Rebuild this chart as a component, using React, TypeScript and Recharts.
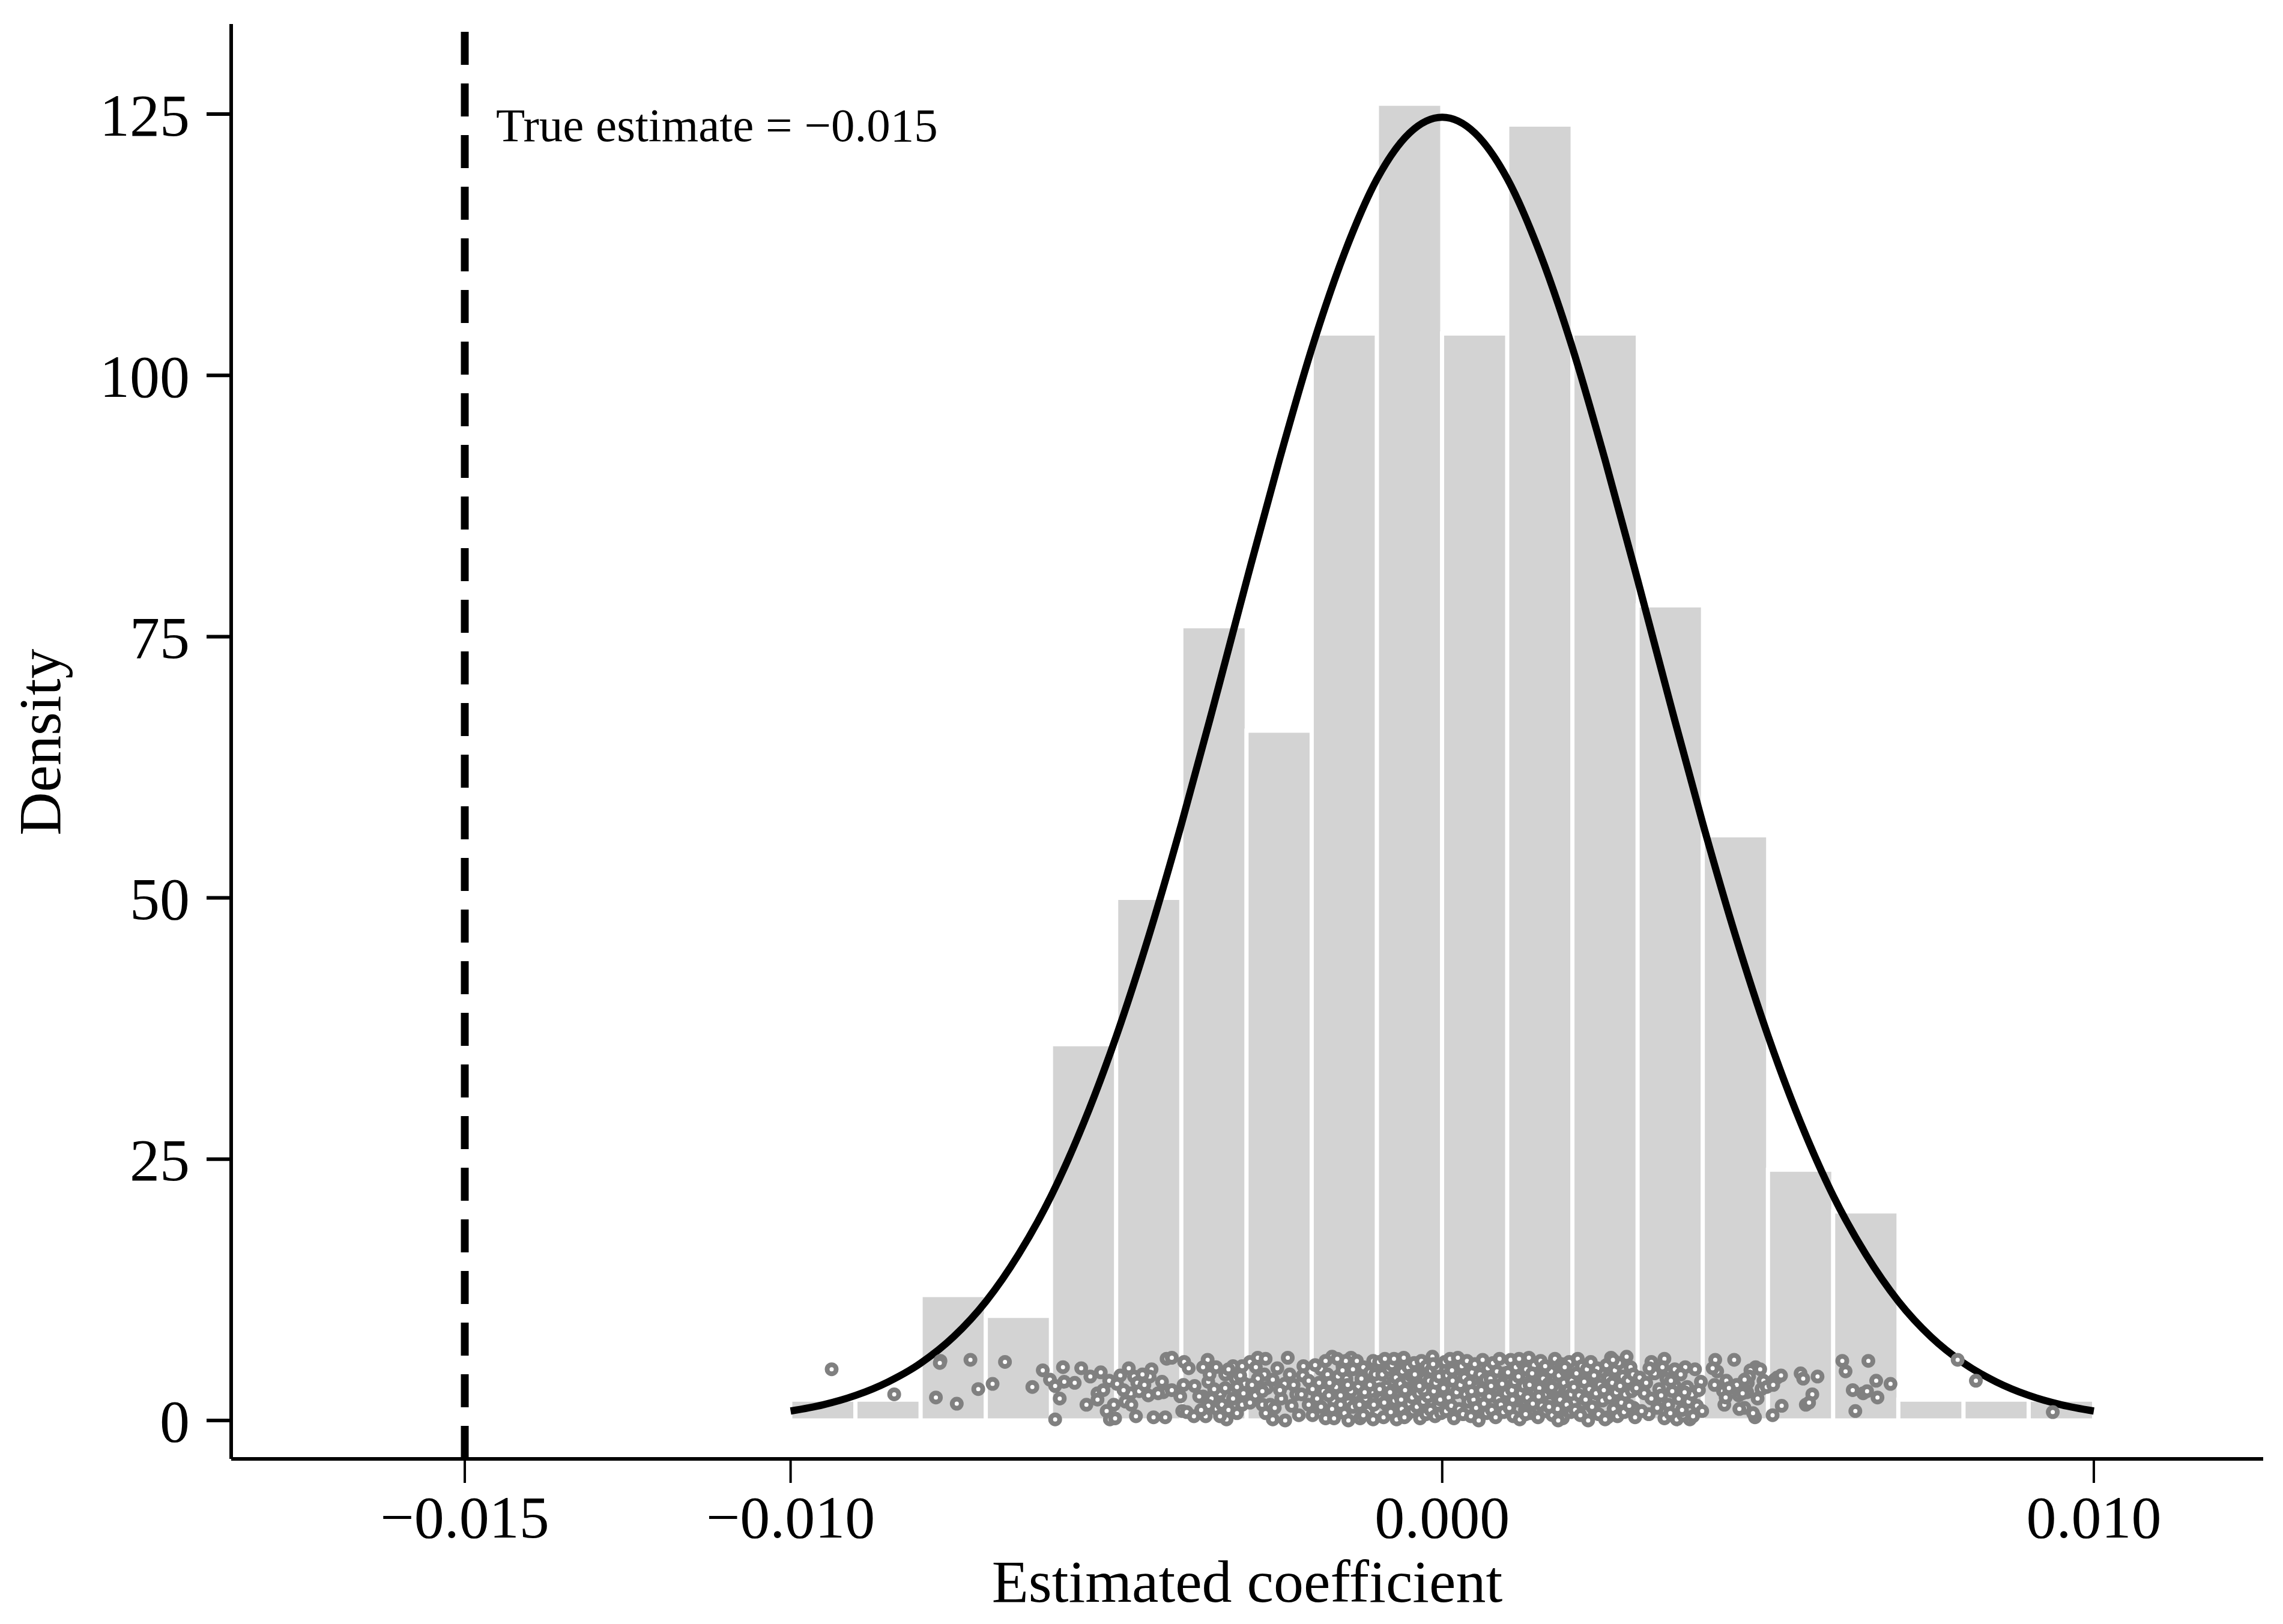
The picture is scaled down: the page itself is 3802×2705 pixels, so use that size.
import { ComposedChart, Bar, Line, Scatter, XAxis, YAxis, ReferenceLine } from 'recharts'

const FONT = '"Liberation Serif", "Times New Roman", serif'

// histogram: bin centres and densities (bin width 0.001, from -0.010 to 0.010)
const BIN_CENTERS = [
  -0.0095, -0.0085, -0.0075, -0.0065, -0.0055, -0.0045, -0.0035, -0.0025, -0.0015, -0.0005,
  0.0005, 0.0015, 0.0025, 0.0035, 0.0045, 0.0055, 0.0065, 0.0075, 0.0085, 0.0095,
]
const DENSITY = [2, 2, 12, 10, 36, 50, 76, 66, 104, 126, 104, 124, 104, 78, 56, 24, 20, 2, 2, 2]

// fitted normal curve
const CURVE_X = [
  -0.01, -0.0095, -0.009, -0.0085, -0.008, -0.0075, -0.007, -0.0065, -0.006, -0.0055, -0.005,
  -0.0045, -0.004, -0.0035, -0.003, -0.0025, -0.002, -0.0015, -0.001, -0.0005, 0,
  0.0005, 0.001, 0.0015, 0.002, 0.0025, 0.003, 0.0035, 0.004, 0.0045, 0.005,
  0.0055, 0.006, 0.0065, 0.007, 0.0075, 0.008, 0.0085, 0.009, 0.0095, 0.01,
]
const CURVE_Y = [
  0.9, 1.5, 2.4, 3.7, 5.5, 8.0, 11.4, 15.9, 21.5, 28.5, 36.8,
  46.4, 57.1, 68.6, 80.4, 91.9, 102.6, 111.7, 118.8, 123.2, 124.7,
  123.2, 118.8, 111.7, 102.6, 91.9, 80.4, 68.6, 57.1, 46.4, 36.8,
  28.5, 21.5, 15.9, 11.4, 8.0, 5.5, 3.7, 2.4, 1.5, 0.9,
]

// jittered estimates [coefficient, jitter height]
const POINTS_LEFT: [number, number][] = [
  [-0.00937, 4.9], [-0.00841, 2.5],
  [-0.0077, 5.7], [-0.00724, 5.8], [-0.00777, 2.2], [-0.00745, 1.6], [-0.00712, 3.0], [-0.00771, 5.5],
  [-0.0069, 3.5], [-0.00671, 5.6], [-0.00629, 3.2], [-0.00613, 4.8], [-0.00602, 3.9],
  [-0.00594, 3.3], [-0.00582, 5.1], [-0.0058, 3.7], [-0.00564, 3.6], [-0.00554, 5.0], [-0.00587, 2.1],
  [-0.00594, 0.1], [-0.00546, 1.5], [-0.00529, 2.6], [-0.00529, 2.0], [-0.00524, 4.6], [-0.00515, 0.9],
  [-0.00511, 3.8], [-0.0051, 0.1], [-0.00502, 0.2], [-0.00504, 1.5], [-0.0054, 4.2], [-0.0052, 2.9],
  [-0.00494, 4.3], [-0.00499, 3.5], [-0.00481, 5.0], [-0.00473, 4.2], [-0.00468, 3.6], [-0.00478, 2.6],
  [-0.00486, 1.8], [-0.0047, 0.4], [-0.00451, 2.4], [-0.00446, 4.9], [-0.00449, 4.2], [-0.0043, 3.7],
  [-0.00423, 5.9], [-0.00415, 6.0], [-0.00428, 2.7], [-0.00443, 0.3], [-0.00425, 0.3], [-0.00415, 2.9],
  [-0.00402, 2.3], [-0.00436, 2.6], [-0.0046, 4.4], [-0.00489, 2.9], [-0.00465, 2.8], [-0.00477, 1.5],
  [-0.00457, 3.4],
]

const POINTS_MID_LEFT: [number, number][] = [
  [-0.00397, 3.4], [-0.00396, 5.6], [-0.00389, 5.0], [-0.00399, 0.9], [-0.00392, 0.8], [-0.00381, 0.4],
  [-0.00367, 2.3], [-0.0036, 5.8], [-0.00367, 5.1], [-0.00347, 5.1], [-0.00359, 3.7], [-0.00341, 2.6],
  [-0.00333, 4.4], [-0.00331, 0.1], [-0.00317, 4.0], [-0.00307, 5.2], [-0.00303, 3.5], [-0.00305, 2.6],
  [-0.00307, 1.5], [-0.00354, 2.1], [-0.00346, 1.1], [-0.00338, 1.5], [-0.00321, 2.1], [-0.00328, 1.0],
  [-0.00363, 0.4], [-0.00315, 0.7], [-0.00373, 2.3], [-0.00359, 1.4], [-0.00341, 0.4], [-0.00321, 5.2],
  [-0.00333, 3.1], [-0.0035, 3.0], [-0.0037, 1.0], [-0.0031, 4.3], [-0.0038, 3.3], [-0.00357, 4.4],
  [-0.00328, 4.9], [-0.00315, 3.2],
  [-0.00295, 5.6], [-0.00283, 6.0], [-0.00271, 5.9], [-0.00286, 5.1], [-0.00273, 4.4], [-0.00269, 3.1],
  [-0.00287, 2.4], [-0.00276, 1.5], [-0.00264, 1.5], [-0.00271, 0.7], [-0.0026, 0.1], [-0.00241, 0.0],
  [-0.00242, 3.5], [-0.00253, 5.0], [-0.00237, 6.0], [-0.00224, 2.5], [-0.00216, 2.5], [-0.00213, 5.2],
  [-0.00214, 4.3], [-0.0022, 0.5], [-0.00247, 2.1], [-0.00257, 1.2], [-0.00231, 1.4], [-0.00283, 4.0],
  [-0.0026, 3.9], [-0.00295, 1.7], [-0.00234, 4.4], [-0.00249, 2.9], [-0.00276, 2.8], [-0.00228, 3.4],
  [-0.00205, 1.5], [-0.00292, 3.4], [-0.00205, 3.8],
]

const POINTS_CENTER_LEFT: [number, number][] = [
  [-0.00169, 6.1], [-0.0014, 6.0], [-0.00106, 5.7], [-0.00199, 0.5], [-0.00179, 0.2], [-0.00166, 1.8],
  [-0.00156, 2.4], [-0.00129, 3.2], [-0.00126, 0.2], [-0.00106, 0.1], [-0.00186, 4.9], [-0.00176, 4.4],
  [-0.00147, 4.0], [-0.00121, 5.1], [-0.00111, 4.6], [-0.00153, 5.2], [-0.00137, 4.9], [-0.00163, 3.2],
  [-0.00182, 2.8], [-0.00192, 2.1], [-0.00144, 1.7], [-0.00118, 2.1], [-0.00134, 2.5], [-0.00108, 2.8],
  [-0.00169, 1.1], [-0.0015, 0.7], [-0.00114, 0.9], [-0.00189, 3.6], [-0.0016, 4.2], [-0.00124, 4.0],
  [-0.0014, 2.8], [-0.00186, 1.3], [-0.00166, 0.2], [-0.00144, 0.0], [-0.00121, 0.5], [-0.00105, 1.5],
  [-0.00195, 5.3], [-0.00179, 5.7], [-0.00148, 5.7], [-0.00131, 5.7], [-0.00156, 1.5], [-0.00173, 3.6],
  [-0.00137, 1.3], [-0.00111, 3.4], [-0.00199, 3.0], [-0.00153, 4.8], [-0.00127, 1.5], [-0.00174, 2.4],
  [-0.00103, 4.4], [-0.00145, 3.4], [-0.00161, 5.9], [-0.00119, 2.7],
  [-0.00097, 5.6], [-0.00094, 2.1], [-0.00092, 4.4], [-0.0009, 0.3], [-0.00088, 5.9], [-0.00086, 3.2],
  [-0.00084, 1.4], [-0.00082, 4.9], [-0.0008, 2.7], [-0.00079, 0.8], [-0.00077, 5.3], [-0.00075, 3.7],
  [-0.00073, 1.9], [-0.00071, 4.1], [-0.0007, 0.1], [-0.00068, 5.8], [-0.00066, 2.4], [-0.00064, 3.5],
  [-0.00062, 1.1], [-0.00061, 4.7], [-0.00059, 6.0], [-0.00057, 2.9], [-0.00055, 0.5], [-0.00053, 3.9],
  [-0.00052, 5.1], [-0.0005, 1.6], [-0.00048, 4.3], [-0.00046, 2.2], [-0.00045, 0.9], [-0.00043, 5.5],
  [-0.00041, 3.0], [-0.00039, 1.3], [-0.00038, 4.6], [-0.00036, 2.6], [-0.00034, 0.2], [-0.00032, 5.7],
  [-0.00031, 3.4], [-0.00029, 1.8], [-0.00027, 4.0], [-0.00025, 0.6], [-0.00024, 5.2], [-0.00022, 2.3],
  [-0.0002, 3.8], [-0.00018, 1.0], [-0.00017, 4.8], [-0.00015, 6.1], [-0.00013, 2.8], [-0.00011, 0.4],
  [-0.0001, 3.6], [-0.00008, 5.0], [-0.00006, 1.5], [-0.00005, 4.2], [-0.00003, 2.0], [-0.00002, 0.7],
  [-0.00096, 3.0], [-0.00074, 5.9], [-0.00058, 0.3], [-0.00042, 4.4], [-0.00028, 2.9], [-0.00014, 5.4],
  [-0.00089, 1.7], [-0.00063, 2.0], [-0.00035, 3.3],
]

const POINTS_CENTER_RIGHT: [number, number][] = [
  [0.00002, 3.1], [0.00004, 5.6], [0.00006, 0.9], [0.00008, 4.3], [0.0001, 2.2], [0.00012, 5.9],
  [0.00014, 1.4], [0.00016, 3.8], [0.00018, 0.2], [0.0002, 4.9], [0.00022, 2.7], [0.00024, 6.0],
  [0.00026, 1.1], [0.00028, 3.4], [0.0003, 5.2], [0.00032, 0.6], [0.00034, 4.1], [0.00036, 2.5],
  [0.00038, 5.7], [0.0004, 1.8], [0.00042, 3.6], [0.00044, 0.4], [0.00046, 4.6], [0.00048, 2.0],
  [0.0005, 5.4], [0.00052, 1.2], [0.00054, 3.2], [0.00056, 0.0], [0.00058, 4.4], [0.0006, 2.9],
  [0.00062, 5.8], [0.00064, 1.6], [0.00066, 3.9], [0.00068, 0.7], [0.0007, 5.0], [0.00072, 2.3],
  [0.00074, 4.0], [0.00076, 1.0], [0.00078, 5.5], [0.0008, 3.0], [0.00082, 0.3], [0.00084, 4.7],
  [0.00086, 2.1], [0.00088, 5.9], [0.0009, 1.5], [0.00092, 3.5], [0.00094, 0.8], [0.00096, 4.5],
  [0.00098, 2.6], [0.00015, 4.8], [0.00045, 2.8], [0.00075, 3.3],
  [0.00101, 4.6], [0.00103, 1.2], [0.00105, 5.8], [0.00107, 2.9], [0.00109, 0.4], [0.00111, 3.7],
  [0.00113, 5.1], [0.00115, 1.9], [0.00117, 4.2], [0.00119, 0.1], [0.00121, 2.6], [0.00123, 5.5],
  [0.00125, 3.3], [0.00127, 1.0], [0.00129, 4.9], [0.00131, 2.2], [0.00133, 6.0], [0.00135, 0.7],
  [0.00137, 3.9], [0.00139, 1.6], [0.00141, 5.3], [0.00143, 2.8], [0.00145, 4.4], [0.00147, 0.3],
  [0.00149, 3.1], [0.00151, 5.7], [0.00153, 1.4], [0.00155, 4.0], [0.00157, 2.4], [0.00159, 0.9],
  [0.00161, 5.0], [0.00163, 3.5], [0.00165, 1.8], [0.00167, 4.7], [0.00169, 0.5], [0.00171, 2.7],
  [0.00173, 5.9], [0.00175, 3.0], [0.00177, 1.1], [0.00179, 4.3], [0.00181, 2.0], [0.00183, 5.4],
  [0.00185, 0.2], [0.00187, 3.6], [0.00189, 4.8], [0.00191, 1.5], [0.00193, 2.9], [0.00195, 5.6],
  [0.00197, 0.8], [0.00199, 3.8], [0.00108, 2.0], [0.00118, 5.9], [0.00128, 0.6], [0.00138, 4.5],
  [0.00148, 2.3], [0.00158, 5.2], [0.00168, 3.2], [0.00178, 0.0], [0.00188, 5.1], [0.00198, 2.5],
  [0.00134, 3.4], [0.00164, 1.3],
]

const POINTS_MID_RIGHT: [number, number][] = [
  [0.00208, 5.9], [0.00216, 1.6], [0.00224, 0.0], [0.00234, 0.9], [0.00244, 4.7], [0.00252, 5.3],
  [0.00259, 6.0], [0.00255, 4.0], [0.00254, 0.3], [0.00294, 1.2], [0.00296, 0.3], [0.00283, 6.1],
  [0.00202, 3.2], [0.00204, 1.0], [0.00206, 4.5], [0.0021, 2.4], [0.00212, 0.5], [0.00214, 5.2],
  [0.00218, 3.7], [0.0022, 2.0], [0.00222, 4.9], [0.00226, 3.0], [0.00228, 5.6], [0.0023, 1.3],
  [0.00232, 3.9], [0.00236, 2.6], [0.00238, 5.0], [0.0024, 0.6], [0.00242, 3.4], [0.00246, 1.9],
  [0.00248, 2.9], [0.0025, 0.1], [0.00257, 2.2], [0.00261, 3.6], [0.00263, 1.1], [0.00265, 4.8],
  [0.00267, 2.7], [0.00269, 0.4], [0.00271, 5.5], [0.00273, 3.3], [0.00275, 1.7], [0.00277, 4.2],
  [0.00279, 0.8], [0.00281, 2.5], [0.00285, 3.8], [0.00287, 1.4], [0.00289, 5.1], [0.00291, 2.8],
  [0.00293, 4.4], [0.00298, 3.1], [0.00262, 5.8], [0.00233, 4.3],
  [0.00321, 5.6], [0.00341, 5.9], [0.00357, 4.9], [0.00373, 5.1], [0.00388, 4.9], [0.00397, 3.7],
  [0.0031, 2.6], [0.00321, 2.1], [0.00317, 0.6], [0.00347, 1.5], [0.00357, 3.3], [0.00363, 2.1],
  [0.00341, 0.2], [0.0036, 0.1], [0.0038, 0.1], [0.0037, 0.5], [0.00338, 5.1], [0.00303, 4.1],
  [0.00306, 0.9], [0.00313, 3.6], [0.00326, 4.5], [0.0033, 1.2], [0.00333, 3.0], [0.00336, 2.4],
  [0.00344, 4.0], [0.0035, 0.7], [0.00353, 2.8], [0.00366, 4.4], [0.00368, 1.0], [0.00376, 3.2],
  [0.00378, 1.8], [0.00383, 2.5], [0.00385, 0.4], [0.00391, 1.4], [0.00394, 2.9], [0.00318, 5.0],
  [0.00351, 3.8], [0.00372, 2.7], [0.00399, 0.9],
]

const POINTS_RIGHT: [number, number][] = [
  [0.00419, 5.8], [0.00448, 5.8], [0.00422, 4.7], [0.00436, 3.8], [0.00452, 3.4], [0.00469, 3.6],
  [0.00481, 5.1], [0.00493, 3.8], [0.00433, 1.5], [0.00455, 2.4], [0.00464, 1.2], [0.0048, 0.3],
  [0.00468, 2.7], [0.00431, 2.8], [0.00473, 4.8], [0.0049, 3.0], [0.00418, 3.4], [0.00435, 2.2],
  [0.00471, 4.2], [0.00456, 1.1], [0.00477, 0.7], [0.0044, 3.1], [0.00464, 3.9], [0.00484, 2.1],
  [0.00415, 5.0], [0.00461, 2.6], [0.00498, 3.2], [0.00488, 4.9],
  [0.00507, 0.5], [0.0051, 3.9], [0.00514, 4.1], [0.0052, 4.3], [0.0055, 4.5], [0.00554, 4.0],
  [0.00576, 4.2], [0.00568, 2.5], [0.00558, 1.5], [0.00563, 1.7], [0.00521, 1.4], [0.00508, 3.4],
  [0.00614, 5.7], [0.00619, 4.7], [0.00654, 5.7], [0.0063, 2.9], [0.00646, 2.6], [0.00652, 2.8],
  [0.00666, 3.8], [0.00668, 2.2], [0.00688, 3.5], [0.00634, 0.9],
  [0.00791, 5.8], [0.00819, 3.8], [0.00937, 0.8],
]

const X_TICKS = [-0.015, -0.01, 0, 0.01]
const Y_TICKS = [0, 25, 50, 75, 100, 125]
const TRUE_ESTIMATE = -0.015

const bins = BIN_CENTERS.map((x, i) => ({ bin: x, y: DENSITY[i] }))
const curve = CURVE_X.map((x, i) => ({ x, y: CURVE_Y[i] }))
const points = [
  ...POINTS_LEFT,
  ...POINTS_MID_LEFT,
  ...POINTS_CENTER_LEFT,
  ...POINTS_CENTER_RIGHT,
  ...POINTS_MID_RIGHT,
  ...POINTS_RIGHT,
].map(([x, y]) => ({ x, y }))

const fmtX = (v: number) => {
  const s = Math.abs(v).toFixed(3)
  return v < 0 ? `\u2212${s}` : s
}

const Ring = (props: any) => {
  const { cx, cy } = props
  if (cx == null || cy == null) return null
  return <circle cx={cx} cy={cy} r={7.5} fill="#ffffff" stroke="#808080" strokeWidth={8} />
}

export default function App() {
  return (
    <div style={{ position: 'absolute', left: 0, top: 0, width: 3802, height: 2705, background: '#fff', fontFamily: FONT }}>
      <ComposedChart
        width={3802}
        height={2705}
        data={bins}
        barCategoryGap={0}
        barGap={0}
        margin={{ top: 40, right: 33, bottom: 75, left: 185 }}
      >
        {/* hidden band axis for the histogram, padded so the 20 bins span -0.010 .. 0.010 */}
        <XAxis xAxisId="bins" dataKey="bin" type="category" hide padding={{ left: 931, right: 282 }} />
        <XAxis
          dataKey="x"
          type="number"
          domain={[-0.018585, 0.012599]}
          allowDataOverflow
          ticks={X_TICKS}
          interval={0}
          tickFormatter={fmtX}
          height={200}
          tickSize={40}
          tickMargin={20}
          axisLine={{ stroke: '#000', strokeWidth: 6 }}
          tickLine={{ stroke: '#000', strokeWidth: 4 }}
          tick={{ fontSize: 100, fill: '#000', fontFamily: FONT }}
        />
        <YAxis
          dataKey="y"
          type="number"
          domain={[-3.68, 133.62]}
          allowDataOverflow
          ticks={Y_TICKS}
          interval={0}
          width={200}
          tickSize={41}
          tickMargin={28}
          axisLine={{ stroke: '#000', strokeWidth: 6 }}
          tickLine={{ stroke: '#000', strokeWidth: 6 }}
          tick={{ fontSize: 100, fill: '#000', fontFamily: FONT }}
        />
        <Bar
          xAxisId="bins"
          dataKey="y"
          fill="#d3d3d3"
          stroke="#ffffff"
          strokeWidth={7}
          isAnimationActive={false}
        />
        <ReferenceLine x={TRUE_ESTIMATE} stroke="#000" strokeWidth={13} strokeDasharray="55 31" />
        <Line
          data={curve}
          dataKey="y"
          type="monotone"
          stroke="#000"
          strokeWidth={12}
          dot={false}
          activeDot={false}
          isAnimationActive={false}
        />
        <Scatter data={points} shape={Ring} isAnimationActive={false} />
      </ComposedChart>
      <svg
        width={3802}
        height={2705}
        style={{ position: 'absolute', left: 0, top: 0, pointerEvents: 'none' }}
      >
        <text x={826} y={235} fontSize={79} fontFamily={FONT} fill="#000">
          True estimate = {'\u2212'}0.015
        </text>
        <text x={2077} y={2668} fontSize={100} fontFamily={FONT} fill="#000" textAnchor="middle">
          Estimated coefficient
        </text>
        <text
          x={0}
          y={0}
          fontSize={100}
          fontFamily={FONT}
          fill="#000"
          textAnchor="middle"
          transform="translate(100 1236) rotate(-90)"
        >
          Density
        </text>
      </svg>
    </div>
  )
}
